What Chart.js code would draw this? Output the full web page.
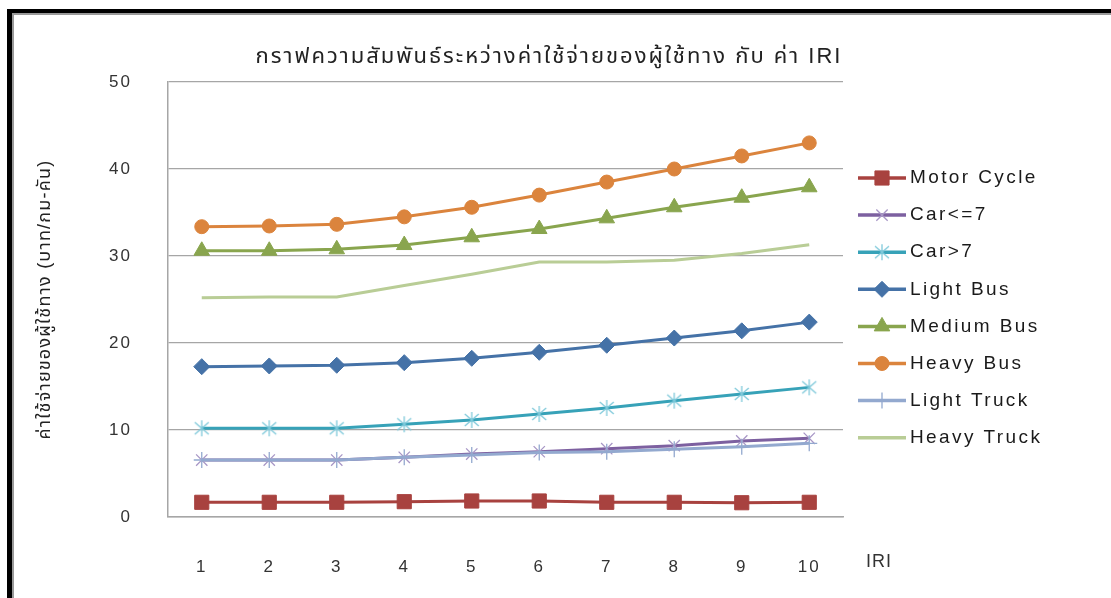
<!DOCTYPE html>
<html>
<head>
<meta charset="utf-8">
<script src="https://cdn.jsdelivr.net/npm/chart.js@4.4.1/dist/chart.umd.min.js"></script>
<style>
html,body{margin:0;padding:0;background:#fff;}
#wrap{position:relative;width:1111px;height:598px;}
</style>
</head>
<body>
<div id="wrap"><canvas id="c" width="1111" height="598"></canvas></div>
<script>
const categories = ['1','2','3','4','5','6','7','8','9','10'];
const seriesNames = ['Motor Cycle','Car<=7','Car>7','Light Bus','Medium Bus','Heavy Bus','Light Truck','Heavy Truck'];
const motorCycle = [1.69,1.69,1.69,1.76,1.84,1.84,1.69,1.69,1.64,1.69];
const carSmall   = [6.55,6.55,6.55,6.86,7.24,7.50,7.85,8.20,8.74,9.05];
const carLarge   = [10.2,10.2,10.2,10.66,11.15,11.84,12.53,13.37,14.14,14.9];
const lightBus   = [17.28,17.36,17.44,17.74,18.24,18.93,19.74,20.57,21.4,22.4];
const mediumBus  = [30.6,30.6,30.77,31.26,32.15,33.1,34.33,35.6,36.7,37.9];
const heavyBus   = [33.37,33.45,33.64,34.5,35.6,37.0,38.5,40.0,41.5,43.0];
const lightTruck = [6.55,6.55,6.55,6.86,7.13,7.40,7.50,7.78,8.08,8.47];
const heavyTruck = [25.2,25.3,25.3,26.6,27.9,29.3,29.3,29.5,30.3,31.3];
const yTicks = [0,10,20,30,40,50];
const titleText = 'กราฟความสัมพันธ์ระหว่างค่าใช้จ่ายของผู้ใช้ทาง กับ ค่า IRI';
const yTitleText = 'ค่าใช้จ่ายของผู้ใช้ทาง (บาท/กม-คัน)';
const xTitleText = 'IRI';

const FONT = '"Liberation Sans", Arial, "Noto Sans Thai", "Noto Sans", sans-serif';

function asterisk(color){
  const cv = document.createElement('canvas');
  cv.width = 18; cv.height = 18;
  const g = cv.getContext('2d');
  g.strokeStyle = color; g.lineWidth = 1.3;
  g.beginPath();
  g.moveTo(9,1); g.lineTo(9,17);
  g.moveTo(2,3); g.lineTo(16,15);
  g.moveTo(16,3); g.lineTo(2,15);
  g.stroke();
  return cv;
}

const values = [motorCycle, carSmall, carLarge, lightBus, mediumBus, heavyBus, lightTruck, heavyTruck];
const lineColors = ['#A8423F','#7D60A0','#37A2B8','#4572A7','#89A54E','#DB843D','#93A9CF','#B9CD96'];
const markColors = ['#A8423F','#A897C6','#86CDDD','#4572A7','#89A54E','#DB843D','#93A9CF','#B9CD96'];
const styles = ['rect','crossRot',asterisk('#7FC9DA'),'rectRot','triangle','circle','cross',false];
const radii = [10,8,9,8,9,7,8,0];

const datasets = seriesNames.map((name,i)=>({
  label: name,
  data: values[i],
  borderColor: lineColors[i],
  backgroundColor: markColors[i],
  pointBackgroundColor: markColors[i],
  pointBorderColor: markColors[i],
  pointBorderWidth: (i===1||i===6)?1.3:1,
  borderWidth: 3,
  pointStyle: styles[i],
  pointRadius: radii[i],
  pointHoverRadius: radii[i],
  tension: 0,
  order: 8 - i
}));

const deco = {
  id: 'deco',
  beforeDraw(chart){ chart.ctx.letterSpacing = '1.2px'; },
  afterDatasetsDraw(chart){ chart.ctx.letterSpacing = '2px'; },
  afterDraw(chart){
    const ctx = chart.ctx;
    ctx.save();
    // frame
    ctx.fillStyle = '#000';
    ctx.fillRect(7, 9, 5, 598);
    ctx.fillRect(7, 9, 1104, 4);
    ctx.fillStyle = '#9a9a9a';
    ctx.fillRect(12, 13, 2, 598);
    ctx.fillRect(12, 13, 1099, 2);
    // title
    ctx.letterSpacing = '2px';
    ctx.font = '22px ' + FONT;
    ctx.fillStyle = '#222';
    ctx.textAlign = 'center';
    ctx.textBaseline = 'middle';
    ctx.fillText(titleText, 549, 57);
    // legend
    ctx.letterSpacing = '2.4px';
    ctx.font = '19px ' + FONT;
    ctx.textBaseline = 'middle';
    ctx.textAlign = 'left';
    chart.data.datasets.forEach((ds,i)=>{
      const y = 178 + i*37.1;
      ctx.strokeStyle = ds.borderColor;
      ctx.lineWidth = 3.5;
      ctx.beginPath(); ctx.moveTo(858,y); ctx.lineTo(906,y); ctx.stroke();
      if (ds.pointStyle) {
        ctx.fillStyle = ds.pointBackgroundColor;
        ctx.strokeStyle = ds.pointBorderColor;
        ctx.lineWidth = ds.pointBorderWidth;
        Chart.helpers.drawPoint(ctx, {
          pointStyle: ds.pointStyle, radius: ds.pointRadius, rotation: 0,
          borderWidth: ds.pointBorderWidth
        }, 882, y);
      }
      ctx.fillStyle = '#1a1a1a';
      ctx.fillText(ds.label, 910, y);
    });
    // x title
    ctx.letterSpacing = '1px';
    ctx.font = '18px ' + FONT;
    ctx.fillStyle = '#333';
    ctx.fillText(xTitleText, 866, 562);
    ctx.letterSpacing = '0px';
    ctx.restore();
  }
};

new Chart(document.getElementById('c'), {
  type: 'line',
  data: { labels: categories, datasets },
  options: {
    responsive: false,
    animation: false,
    events: [],
    layout: { padding: { left: 0, right: 268, top: 82, bottom: 0 } },
    plugins: {
      legend: { display: false },
      tooltip: { enabled: false },
      title: { display: false }
    },
    scales: {
      x: {
        offset: true,
        grid: { display: false, drawTicks: false },
        border: { display: true, color: '#a6a6a6', width: 1.5 },
        ticks: { color: '#333', font: { family: FONT, size: 17 }, padding: 40, z: 1, maxRotation: 0 },
        afterFit(s){ s.height = 81; }
      },
      y: {
        min: 0, max: 50,
        afterBuildTicks(s){ s.ticks = yTicks.map(v=>({value:v})); },
        grid: { color: '#a6a6a6', lineWidth: 1.2, drawTicks: false },
        border: { display: true, color: '#a6a6a6', width: 1.5 },
        ticks: { color: '#333', font: { family: FONT, size: 17 }, padding: 36, z: 1 },
        title: {
          display: true, text: yTitleText, color: '#222',
          font: { family: FONT, size: 18, lineHeight: 1.2 },
          padding: { top: 34, bottom: 0 }
        },
        afterFit(s){ s.width = 168; }
      }
    }
  },
  plugins: [deco]
});
</script>
</body>
</html>
